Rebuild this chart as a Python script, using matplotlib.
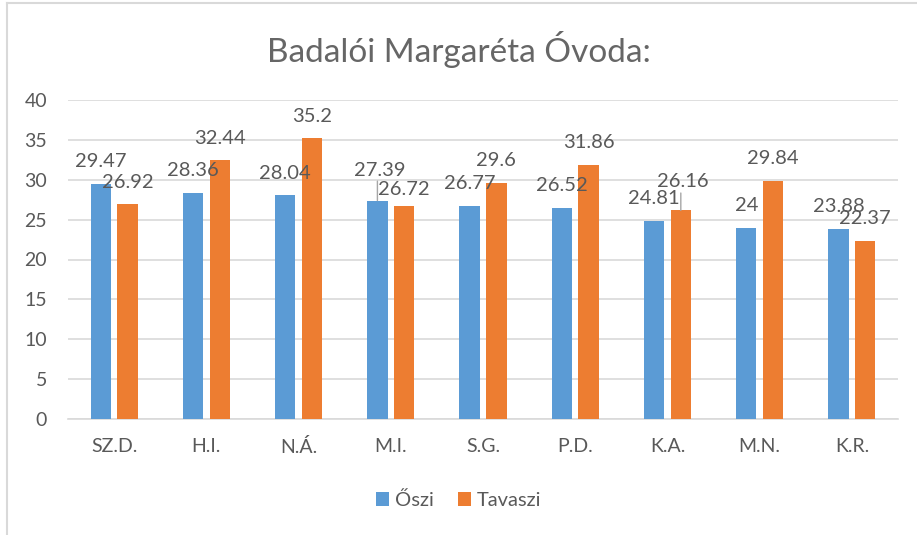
import matplotlib.pyplot as plt
import numpy as np

# --- data ---
categories = ['SZ.D.', 'H.I.', 'N.Á.', 'M.I.', 'S.G.', 'P.D.', 'K.A.', 'M.N.', 'K.R.']
oszi = [29.47, 28.36, 28.04, 27.39, 26.77, 26.52, 24.81, 24, 23.88]
tavaszi = [26.92, 32.44, 35.2, 26.72, 29.6, 31.86, 26.16, 29.84, 22.37]
oszi_labels = ['29.47', '28.36', '28.04', '27.39', '26.77', '26.52', '24.81', '24', '23.88']
tavaszi_labels = ['26.92', '32.44', '35.2', '26.72', '29.6', '31.86', '26.16', '29.84', '22.37']
y_ticks = [0, 5, 10, 15, 20, 25, 30, 35, 40]

# label offsets above the bar tops (points); a few were dragged by hand in the original
oszi_dy = [12, 12, 12, 18, 12, 12, 12, 12, 12]
tavaszi_dy = [12, 12, 12, 8, 12, 12, 16.5, 12, 12]
oszi_leader = [False, False, False, True, False, False, False, False, False]
tavaszi_leader = [False, False, False, False, False, False, True, False, False]

plt.rcParams['font.family'] = ['Lato', 'DejaVu Sans']
text_grey = '#595959'
blue = '#5B9BD5'
orange = '#ED7D31'

fig = plt.figure(figsize=(9.17, 5.35), dpi=100)
ax = fig.add_axes([68 / 917, 1 - 419 / 535, 830 / 917, 319 / 535])

x = np.arange(len(categories))
w = 0.22
gap = 0.035
b1 = ax.bar(x - w / 2 - gap, oszi, w, color=blue, label='Őszi', zorder=3)
b2 = ax.bar(x + w / 2 + gap, tavaszi, w, color=orange, label='Tavaszi', zorder=3)


def add_labels(bars, labels, dys, leaders):
    for rect, lab, dy, lead in zip(bars, labels, dys, leaders):
        cx = rect.get_x() + rect.get_width() / 2
        top = rect.get_height()
        ax.annotate(lab, (cx, top), xytext=(1.5 if lead else 0, dy),
                    textcoords='offset points', ha='center', va='baseline',
                    fontsize=14.5, color=text_grey, zorder=4)
        if lead:
            ax.annotate('', (cx, top), xytext=(0, dy - 4), textcoords='offset points',
                        arrowprops=dict(arrowstyle='-', color='#A6A6A6', lw=1,
                                        shrinkA=0, shrinkB=0), zorder=4)


add_labels(b1, oszi_labels, oszi_dy, oszi_leader)
add_labels(b2, tavaszi_labels, tavaszi_dy, tavaszi_leader)

ax.set_xlim(-0.5, len(categories) - 0.5)
ax.set_ylim(0, 40)
ax.set_yticks(y_ticks)
ax.set_xticks(x)
ax.set_xticklabels(categories)
ax.tick_params(axis='both', length=0, labelsize=14, colors=text_grey)
ax.tick_params(axis='x', pad=14)
ax.tick_params(axis='y', pad=15)
ax.grid(axis='y', color='#D9D9D9', linewidth=1.2, zorder=0)
for s in ['top', 'right', 'left']:
    ax.spines[s].set_visible(False)
ax.spines['bottom'].set_color('#D9D9D9')
ax.spines['bottom'].set_linewidth(1.2)

fig.text(0.5, 1 - 49 / 535, 'Badalói Margaréta Óvoda:', ha='center', va='center',
         fontsize=24, color='#666666')

leg = fig.legend(handles=[b1, b2], loc='center', bbox_to_anchor=(0.5, 1 - 500 / 535),
                 ncol=2, frameon=False, fontsize=14.5, handlelength=0.65, handleheight=0.65,
                 handletextpad=0.3, columnspacing=1.2)
for t in leg.get_texts():
    t.set_color(text_grey)

# light chart border (only top and left visible in the crop)
fig.add_artist(plt.Line2D([7 / 917, 7 / 917], [0, 1 - 3 / 535], color='#D9D9D9', linewidth=1.5))
fig.add_artist(plt.Line2D([7 / 917, 1], [1 - 3 / 535, 1 - 3 / 535], color='#D9D9D9', linewidth=1.5))

fig.savefig('out.png', dpi=100)
